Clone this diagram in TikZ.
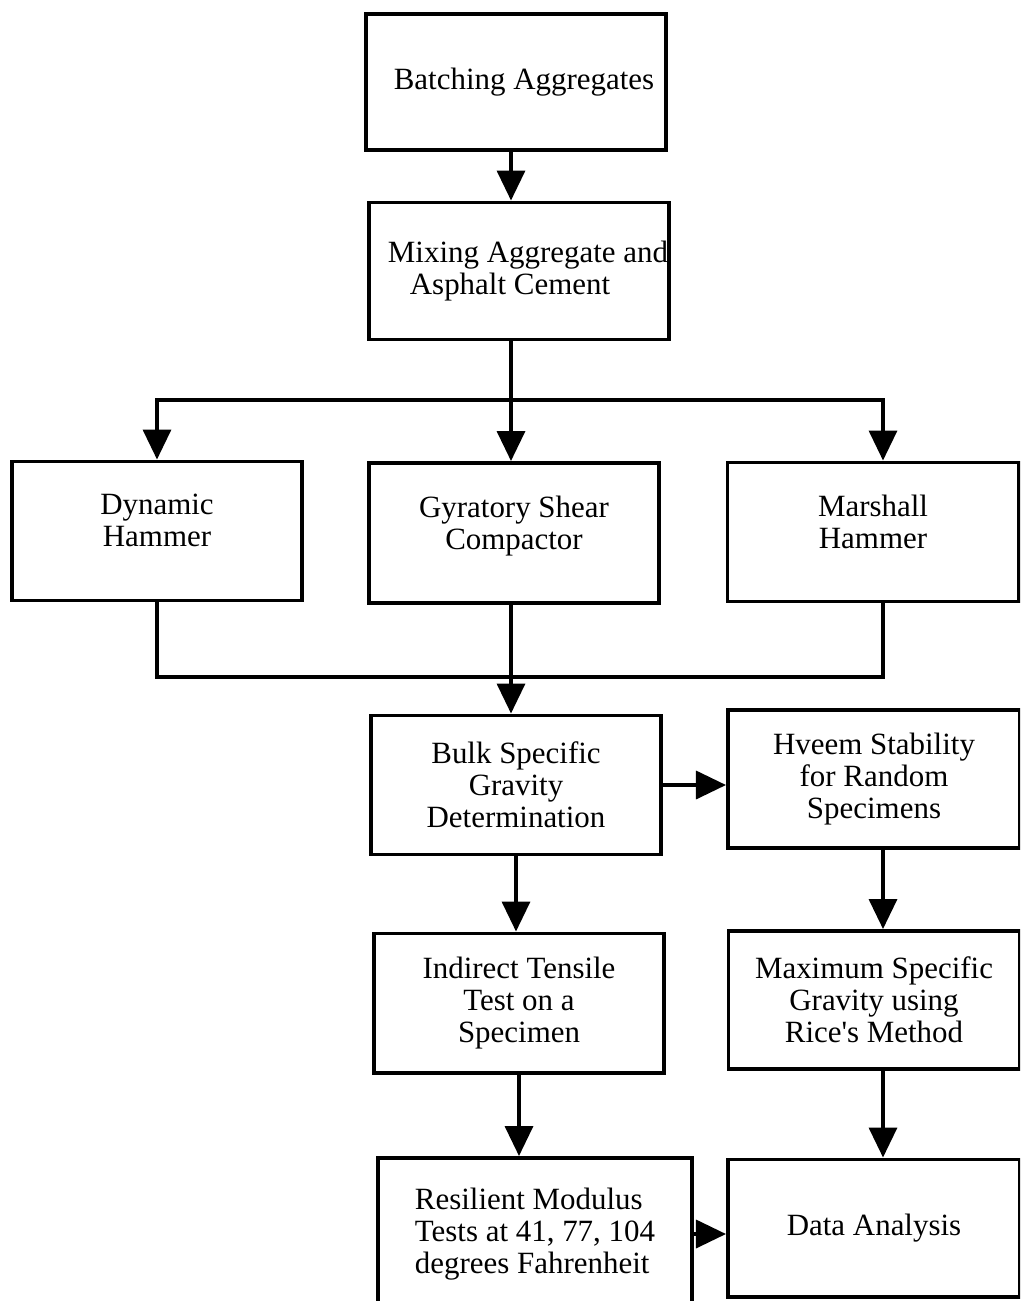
\documentclass[tikz,border=0pt]{standalone}
\usepackage{fontspec}
\setmainfont{Liberation Serif}
\usetikzlibrary{arrows.meta, calc}

\begin{document}
\begin{tikzpicture}[
    x=0.025cm, y=-0.025cm,
    every node/.style={font=\fontsize{22}{22.7}\selectfont},
    box/.style={
      rectangle, draw, line width=2.8pt,
      minimum width=7.25cm, minimum height=3.475cm,
      align=center, inner sep=0pt
    },
    line/.style={line width=2.5pt},
    arrow/.style={line, -{Triangle[width=0.7cm, length=0.75cm]}}
  ]
  \useasboundingbox (0,0) rectangle (1020,1301);
  \clip (0,0) rectangle (1020,1301);

  % columns used by the connectors
  \coordinate (colM) at (511,0);
  \coordinate (colR) at (883,0);

  \node[box, minimum width=7.5cm, minimum height=3.4cm] (batch) at (516,82)
    {\hspace*{0.4cm}Batching Aggregates};
  \node[box, minimum width=7.5cm, minimum height=3.425cm] (mix) at (519,271)
    {\hspace*{0.45cm}Mixing Aggregate and\\Asphalt Cement\hspace*{0.45cm}};

  \node[box] (dyn) at (157,531) {Dynamic\\Hammer\\[-8pt]\mbox{}};
  \node[box, minimum width=7.225cm, minimum height=3.5cm] (gyr) at (514,533)
    {Gyratory Shear\\Compactor\\[-8pt]\mbox{}};
  \node[box, minimum width=7.275cm] (mar) at (873,532)
    {Marshall\\Hammer\\[-8pt]\mbox{}};

  \node[box] (bulk) at (516,785) {Bulk Specific\\Gravity\\Determination};
  \node[box, minimum width=7.3cm, minimum height=3.45cm] (hveem) at (874,779)
    {Hveem Stability\\for Random\\Specimens};

  \node[box] (ind) at (519,1003) {Indirect Tensile\\Test on a\\Specimen};
  \node[box, minimum width=7.275cm, minimum height=3.45cm] (max) at (874,1000)
    {Maximum Specific\\Gravity using\\Rice\textquotesingle s Method};

  \node[box, minimum width=7.85cm, minimum height=3.8cm, align=left] (res)
    at (535,1234)
    {Resilient Modulus\\Tests at 41, 77, 104\\degrees Fahrenheit};
  \node[box, minimum width=7.3cm, minimum height=3.425cm] (data) at (874,1228)
    {Data Analysis};

  % top of the chart
  \draw[arrow] (batch.south -| colM) -- (mix.north -| colM);
  \coordinate (split) at (511,400);
  \draw[line] (mix.south -| colM) -- (split);
  \draw[arrow] (split) -- (gyr.north -| colM);
  \draw[arrow] (split) -| (dyn.north);
  \draw[arrow] (split) -| (mar.north -| colR);

  % compaction results join
  \coordinate (merge) at (511,677);
  \draw[line] (dyn.south) |- (merge) -| (mar.south -| colR);
  \draw[arrow] (gyr.south -| colM) -- (bulk.north -| colM);

  % testing
  \draw[arrow] (bulk.east) -- (bulk.east -| hveem.west);
  \draw[arrow] (bulk.south) -- (bulk.south |- ind.north);
  \draw[arrow] (hveem.south -| colR) -- (max.north -| colR);
  \draw[arrow] (ind.south) -- (ind.south |- res.north);
  \draw[arrow] (max.south -| colR) -- (data.north -| colR);
  \draw[arrow] (res.east) -- (res.east -| data.west);
\end{tikzpicture}
\end{document}
